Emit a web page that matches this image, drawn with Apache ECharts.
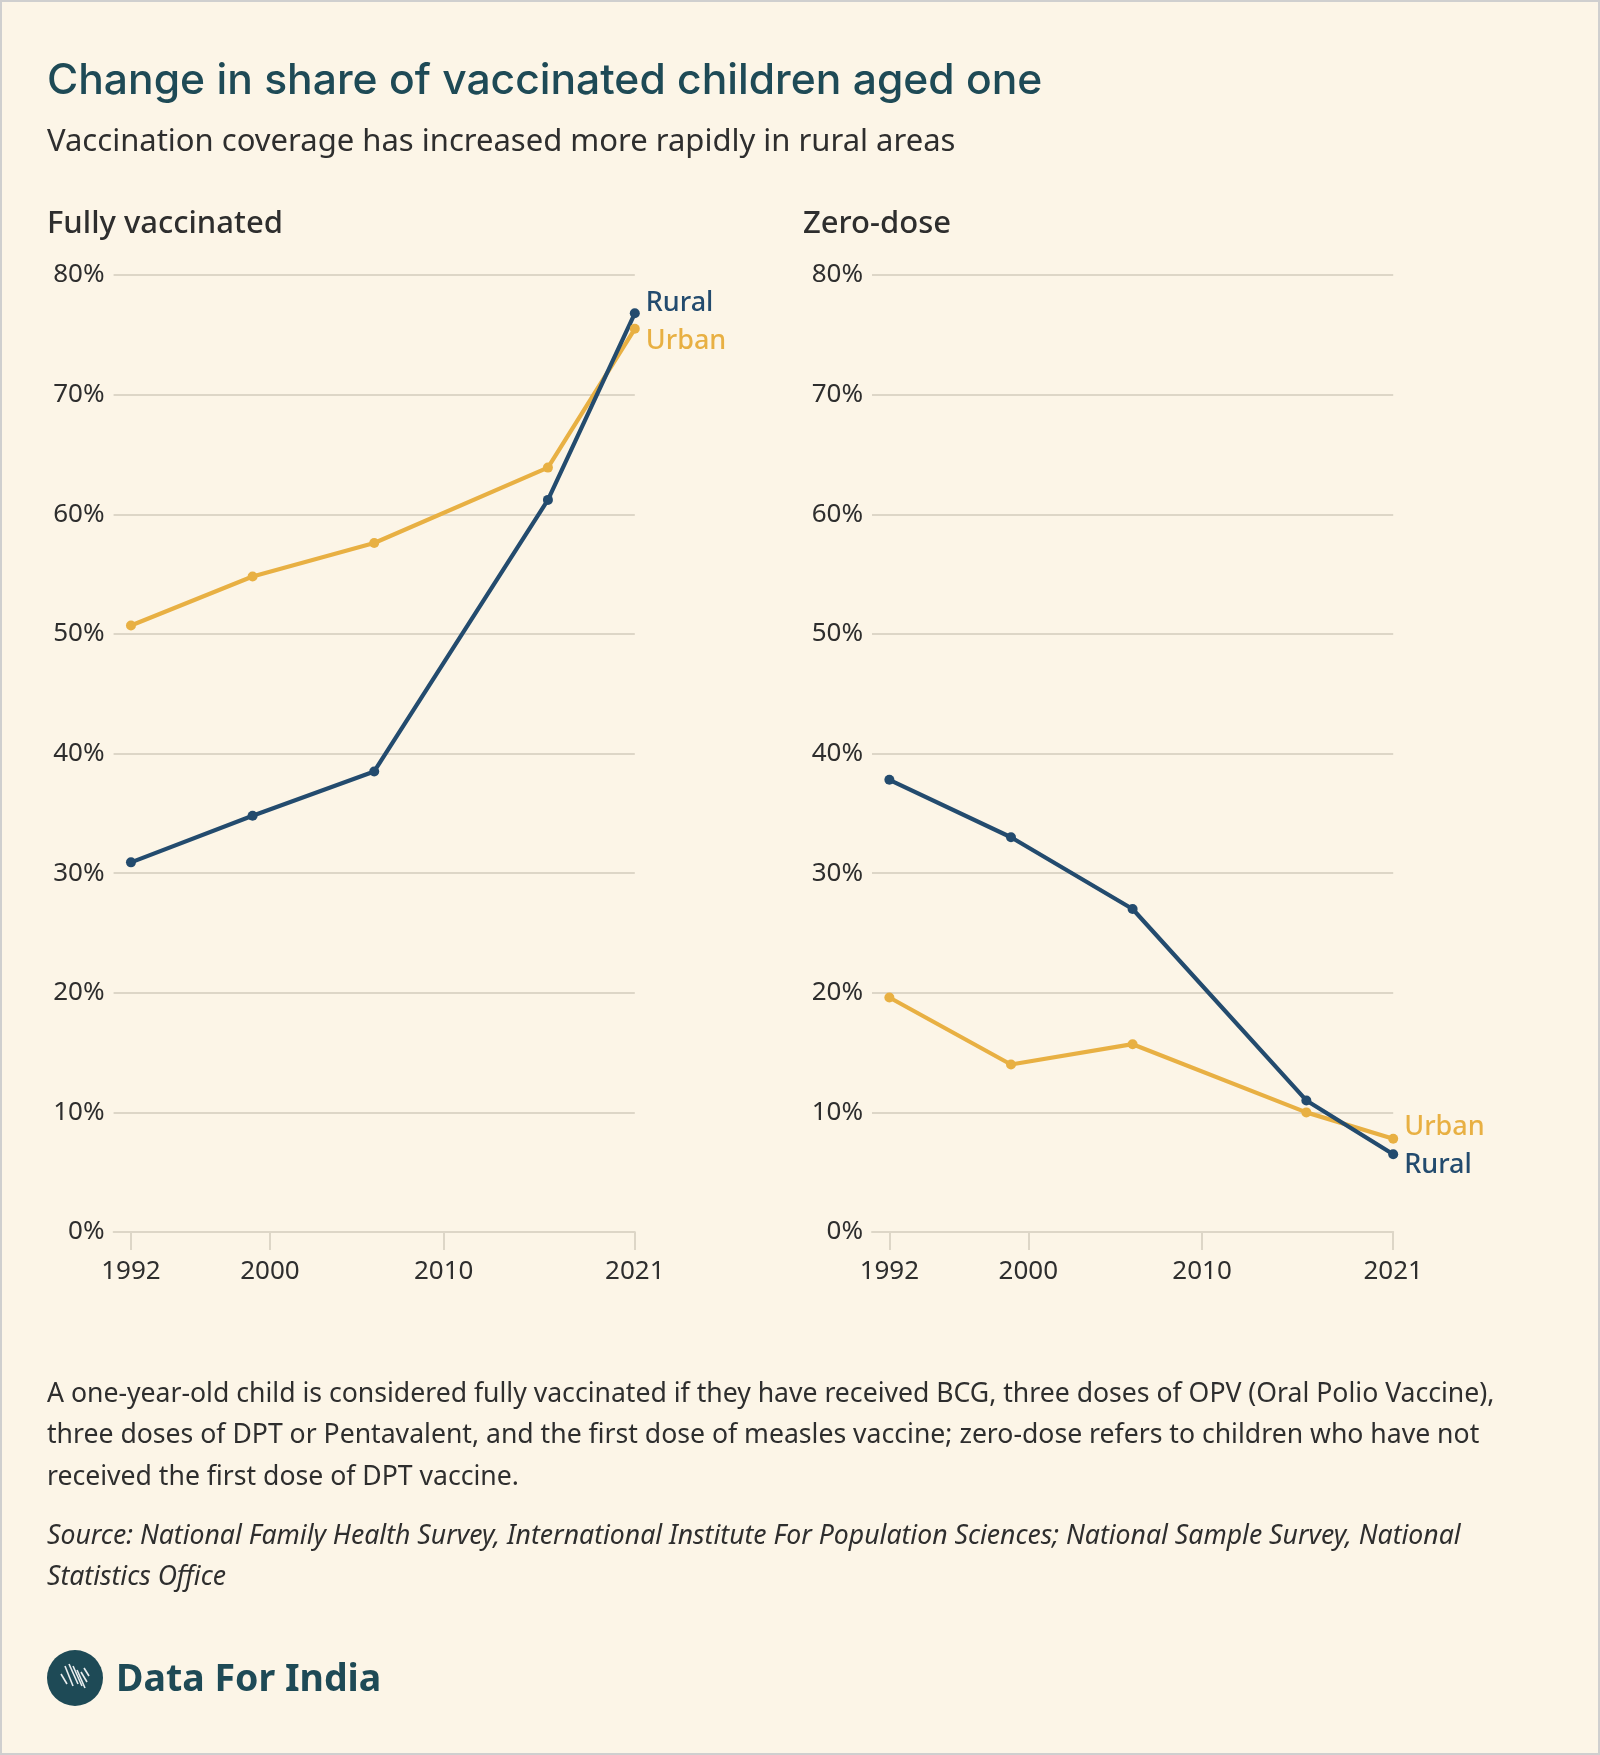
<!DOCTYPE html>
<html lang="en">
<head>
<meta charset="UTF-8">
<title>Change in share of vaccinated children aged one</title>
<script src="https://cdn.jsdelivr.net/npm/echarts@6.0.0/dist/echarts.min.js"></script>
<style>
  body { margin: 0; background: #fcf5e7; }
</style>
</head>
<body>
<div id="main" style="width:1600px;height:1755px;"></div>
<script>
// survey years (NFHS rounds) and values
const years = [1992, 1999, 2006, 2016, 2021];
const tickYears = [1992, 2000, 2010, 2021];
const fullyRural = [30.9, 34.8, 38.5, 61.2, 76.8];
const fullyUrban = [50.7, 54.8, 57.6, 63.9, 75.5];
const zeroRural = [37.8, 33.0, 27.0, 11.0, 6.5];
const zeroUrban = [19.6, 14.0, 15.7, 10.0, 7.8];

const RURAL = '#234b6e';
const URBAN = '#e8b043';
const GRID = '#ddd6c7';
const TEXT = '#2e2e2e';
const BODY_FONT = '"Noto Sans", "Open Sans", sans-serif';

const pairs = vals => years.map((y, i) => [y, vals[i]]);

function xAxisFor(idx) {
  return {
    gridIndex: idx, type: 'value', min: 1991, max: 2021,
    splitLine: { show: false },
    axisLine: { show: true, lineStyle: { color: GRID, width: 2 } },
    axisTick: { show: true, customValues: tickYears, length: 18, lineStyle: { color: GRID, width: 2 } },
    axisLabel: {
      customValues: tickYears, margin: 27, fontSize: 26, color: TEXT,
      fontFamily: BODY_FONT, formatter: v => String(v)
    }
  };
}

function yAxisFor(idx) {
  return {
    gridIndex: idx, type: 'value', min: 0, max: 80, interval: 10,
    axisLine: { show: false }, axisTick: { show: false },
    axisLabel: { formatter: '{value}%', fontSize: 26, color: TEXT, margin: 9, fontFamily: BODY_FONT },
    splitLine: { lineStyle: { color: GRID, width: 2 } }
  };
}

function lineSeries(name, color, vals, idx, dy) {
  return {
    name: name, type: 'line', xAxisIndex: idx, yAxisIndex: idx,
    data: pairs(vals),
    symbol: 'circle', symbolSize: 10, showAllSymbol: true,
    lineStyle: { color: color, width: 4.2 },
    itemStyle: { color: color },
    emphasis: { disabled: true },
    endLabel: {
      show: true, formatter: name, color: color, fontSize: 27, fontWeight: 500,
      fontFamily: BODY_FONT, distance: 11, offset: [0, dy]
    }
  };
}

function txt(text, x, y, size, opts) {
  opts = opts || {};
  return {
    type: 'text', x: x, y: y,
    style: {
      text: text, fill: opts.color || TEXT,
      font: (opts.style || 'normal') + ' ' + (opts.weight || 400) + ' ' + size + 'px ' + (opts.family || BODY_FONT),
      verticalAlign: 'middle', align: 'left'
    }
  };
}

const footLines = [
  'A one-year-old child is considered fully vaccinated if they have received BCG, three doses of OPV (Oral Polio Vaccine),',
  'three doses of DPT or Pentavalent, and the first dose of measles vaccine; zero-dose refers to children who have not',
  'received the first dose of DPT vaccine.'
];
const sourceLines = [
  'Source: National Family Health Survey, International Institute For Population Sciences; National Sample Survey, National',
  'Statistics Office'
];

const graphics = [
  { type: 'rect', shape: { x: 1, y: 1, width: 1598, height: 1753 }, style: { fill: 'none', stroke: '#cfcfcf', lineWidth: 2 } },
  txt('Change in share of vaccinated children aged one', 47, 81, 42.6, { family: 'Inter, sans-serif', weight: 500, color: '#1e4a56' }),
  txt('Vaccination coverage has increased more rapidly in rural areas', 47, 142, 31),
  txt('Fully vaccinated', 47, 224, 31, { weight: 500 }),
  txt('Zero-dose', 803, 224, 31, { weight: 500 }),
  { type: 'circle', shape: { cx: 75, cy: 1678, r: 28 }, style: { fill: '#1e4a56' } },
  txt('Data For India', 116, 1680, 37.5, { weight: 700, color: '#1e4a56' })
];
footLines.forEach((l, i) => graphics.push(txt(l, 47, 1394 + i * 41.5, 26.6)));
sourceLines.forEach((l, i) => graphics.push(txt(l, 47, 1536 + i * 41.5, 26.6, { style: 'italic' })));

// small striped mark inside the logo circle
const stripes = [[-10, -12, -2, 8], [-6, -14, 3, 6], [-2, -12, 7, 8], [2, -8, 10, 10], [6, -6, 12, 4], [-14, -4, -8, 6], [9, -10, 14, -2]];
stripes.forEach(s => graphics.push({
  type: 'line', shape: { x1: 75 + s[0], y1: 1678 + s[1], x2: 75 + s[2], y2: 1678 + s[3] },
  style: { stroke: '#ffffff', lineWidth: 1.6, opacity: 0.9 }
}));

const chart = echarts.init(document.getElementById('main'));
chart.setOption({
  backgroundColor: '#fcf5e7',
  animation: false,
  textStyle: { fontFamily: BODY_FONT },
  grid: [
    { left: 113.6, top: 275, width: 521.2, height: 957 },
    { left: 872, top: 275, width: 521.2, height: 957 }
  ],
  xAxis: [xAxisFor(0), xAxisFor(1)],
  yAxis: [yAxisFor(0), yAxisFor(1)],
  series: [
    lineSeries('Urban', URBAN, fullyUrban, 0, 12),
    lineSeries('Rural', RURAL, fullyRural, 0, -10),
    lineSeries('Urban', URBAN, zeroUrban, 1, -11),
    lineSeries('Rural', RURAL, zeroRural, 1, 11)
  ],
  graphic: graphics
});
</script>
</body>
</html>
